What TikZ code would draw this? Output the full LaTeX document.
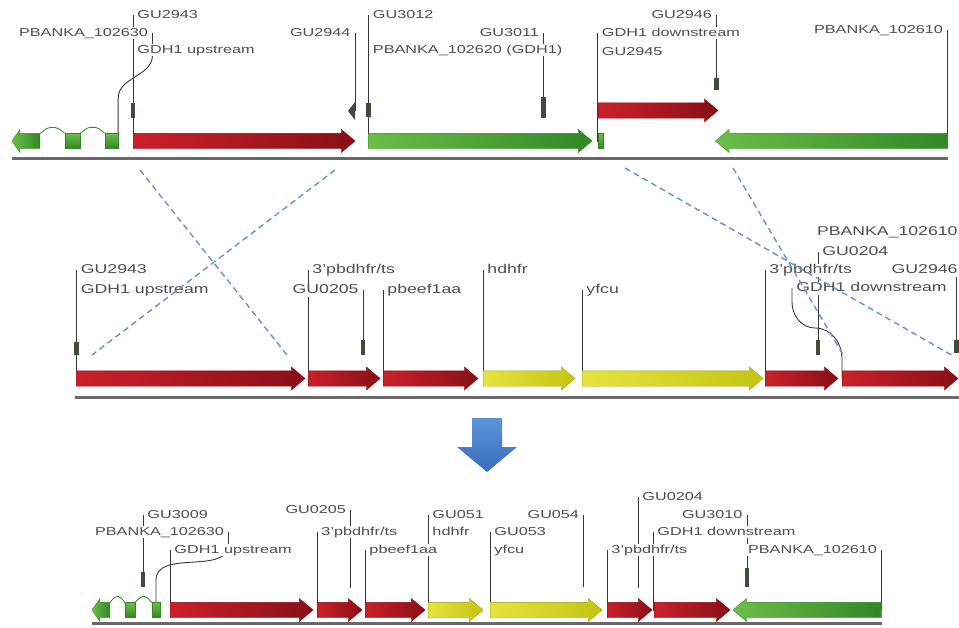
\documentclass[tikz,border=0pt]{standalone}
\usepackage{fontspec}
\setmainfont{Liberation Sans}
\usetikzlibrary{shapes.arrows,backgrounds}

\definecolor{redL}{RGB}{204,32,42}
\definecolor{redD}{RGB}{135,16,22}
\definecolor{greenL}{RGB}{108,190,72}
\definecolor{greenD}{RGB}{50,135,38}
\definecolor{yelL}{RGB}{230,228,60}
\definecolor{yelD}{RGB}{196,196,20}
\definecolor{primercol}{RGB}{62,78,58}
\definecolor{labelcol}{RGB}{78,78,78}
\definecolor{leadcol}{RGB}{55,55,55}
\definecolor{bbcol}{RGB}{105,105,105}
\definecolor{dashcol}{RGB}{100,148,205}
\definecolor{blueL}{RGB}{92,148,216}
\definecolor{blueD}{RGB}{58,108,188}

\tikzset{
  gene/.style={single arrow, anchor=tail, inner xsep=0pt, inner ysep=7.5pt,
    single arrow head extend=4pt, single arrow tip angle=80, line width=0.3pt},
  redgene/.style={gene, left color=redL, right color=redD, draw=redD},
  greengene/.style={gene, left color=greenL, right color=greenD, draw=greenD},
  yellowgene/.style={gene, left color=yelL, right color=yelD, draw=yelD!80!black},
  exon/.style={rectangle, inner sep=0pt, minimum height=15pt, top color=greenL,
    bottom color=greenD, draw=greenD, line width=0.3pt},
  primer/.style={rectangle, inner sep=0pt, minimum width=4.5pt, fill=primercol},
  lbl/.style={font=\fontsize{11.5}{13}\selectfont, xscale=1.41, text=labelcol,
    fill=white, inner sep=0.5pt, text height=8.4pt, text depth=2.4pt},
  lblm/.style={lbl, font=\fontsize{12.8}{14}\selectfont, xscale=0.979,
    text height=9.3pt, text depth=2.7pt},
  leader/.style={draw=leadcol, line width=0.9pt},
  backbone/.style={draw=bbcol, line width=3pt},
  homology/.style={draw=dashcol, line width=1.4pt, dash pattern=on 6pt off 4pt},
  intron/.style={draw=greenD, line width=0.8pt, rounded corners=2pt}
}

\begin{document}
\begin{tikzpicture}[x=1pt,y=-1pt]
\useasboundingbox (0,0) rectangle (959,627);

\draw[backbone] (12,158) -- (948,158);
\draw[backbone] (75,397) -- (959,397);
\draw[backbone] (92,623.5) -- (882,623.5);

% wild-type locus
\node[greengene, shape border rotate=180, minimum height=28pt, single arrow tip angle=110] (tE1) at (40,141) {};
\node[exon, minimum width=15pt] (tE2) at (72.5,141) {};
\node[exon, minimum width=13pt] (tE3) at (111.5,141) {};
\draw[intron] ([yshift=7.5pt]tE1.tail) -- ++(8,-6) -- ++(9,0) -- (tE2.north west);
\draw[intron] (tE2.north east) -- ++(8,-6) -- ++(9,0) -- (tE3.north west);
\node[redgene, minimum height=222pt] (tUp) at (133,141) {};
\node[greengene, minimum height=224pt] (tGdh) at (368,141) {};
\node[exon, minimum width=5pt] (tStub) at (600.5,141) {};
\node[redgene, minimum height=120pt] (tDown) at (598,110.5) {};
\node[greengene, shape border rotate=180, minimum height=232pt] (tNext) at (947.5,141) {};

\node[primer, minimum height=15pt] (tM2943) at (133,110.5) {};
\coordinate (tM2944) at (355,111);
\node[primer, minimum height=14pt] (tM3012) at (368.5,110) {};
\node[primer, minimum height=21pt] (tM3011) at (543.5,107.5) {};
\node[primer, minimum height=12pt] (tM2946) at (716.5,84) {};

\node[lbl, anchor=west] (tl2943) at (136.5,15) {GU2943};
\node[lbl, anchor=east] (tlPb30) at (149,33) {PBANKA\_102630};
\node[lbl, anchor=west] (tlUp) at (136.5,50) {GDH1 upstream};
\node[lbl, anchor=east] (tl2944) at (351.5,33) {GU2944};
\node[lbl, anchor=west] (tl3012) at (372,15) {GU3012};
\node[lbl, anchor=west] (tlGdh) at (372,50) {PBANKA\_102620 (GDH1)};
\node[lbl, anchor=east] (tl3011) at (540,33) {GU3011};
\node[lbl, anchor=east] (tl2946) at (713,15) {GU2946};
\node[lbl, anchor=west] (tlDown) at (601,33) {GDH1 downstream};
\node[lbl, anchor=west] (tl2945) at (601,52) {GU2945};
\node[lbl, anchor=east] (tlPb10) at (944,30) {PBANKA\_102610};

% transfected construct
\node[redgene, minimum height=229pt] (mUp) at (76,378.5) {};
\node[redgene, minimum height=72pt] (mTs1) at (308,378.5) {};
\node[redgene, minimum height=95pt] (mEf) at (383,378.5) {};
\node[yellowgene, minimum height=92pt] (mHd) at (483,378.5) {};
\node[yellowgene, minimum height=181pt] (mYf) at (582,378.5) {};
\node[redgene, minimum height=73pt] (mTs2) at (765,378.5) {};
\node[redgene, minimum height=116pt] (mDown) at (842,378.5) {};

\node[primer, minimum height=13pt] (mM2943) at (76.5,348.5) {};
\node[primer, minimum height=15pt] (mM0205) at (363,347.5) {};
\node[primer, minimum height=15pt] (mM0204) at (818,347.5) {};
\node[primer, minimum height=13pt] (mM2946) at (956.5,346.5) {};
\coordinate (mJoin) at (815,328);

\node[lblm, anchor=west] (ml2943) at (80,270) {GU2943};
\node[lblm, anchor=west] (mlUp) at (80,290) {GDH1 upstream};
\node[lblm, anchor=west] (mlTs1) at (311.5,270) {3'pbdhfr/ts};
\node[lblm, anchor=east] (ml0205) at (359.5,290) {GU0205};
\node[lblm, anchor=west] (mlEf) at (386.5,290) {pbeef1aa};
\node[lblm, anchor=west] (mlHd) at (486.5,270) {hdhfr};
\node[lblm, anchor=west] (mlYf) at (585.5,290) {yfcu};
\node[lblm, anchor=west] (mlTs2) at (768.5,270) {3'pbdhfr/ts};
\node[lblm, anchor=east] (mlPb10) at (958.5,232) {PBANKA\_102610};
\node[lblm, anchor=west] (ml0204) at (821.5,252) {GU0204};
\node[lblm, anchor=east] (ml2946) at (958.5,270) {GU2946};
\node[lblm, anchor=west] (mlDown) at (795.5,288) {GDH1 downstream};

% recombined locus
\node[greengene, shape border rotate=180, minimum height=18pt, single arrow tip angle=110] (bE1) at (110,610) {};
\node[exon, minimum width=10pt] (bE2) at (130,610) {};
\node[exon, minimum width=8pt] (bE3) at (156,610) {};
\draw[intron] ([yshift=7.5pt]bE1.tail) -- ++(5,-6) -- ++(5,0) -- (bE2.north west);
\draw[intron] (bE2.north east) -- ++(6,-6) -- ++(5,0) -- (bE3.north west);
\node[redgene, minimum height=143pt] (bUp) at (170,610) {};
\node[redgene, minimum height=45pt] (bTs1) at (317,610) {};
\node[redgene, minimum height=60pt] (bEf) at (365,610) {};
\node[yellowgene, minimum height=55pt] (bHd) at (428,610) {};
\node[yellowgene, minimum height=112pt] (bYf) at (490,610) {};
\node[redgene, minimum height=45pt] (bTs2) at (607,610) {};
\node[redgene, minimum height=76pt] (bDown) at (654,610) {};
\node[greengene, shape border rotate=180, minimum height=148.5pt] (bNext) at (881.5,610) {};

\node[primer, minimum height=15pt] (bM3009) at (143,579.5) {};
\node[primer, minimum height=19pt] (bM3010) at (747,577.5) {};
\coordinate (bE0205) at (350.5,588);
\coordinate (bE054) at (583.5,587);
\coordinate (bE0204) at (638,588);

\node[lbl, anchor=west] (bl3009) at (146.5,515) {GU3009};
\node[lbl, anchor=east] (blPb30) at (225,532) {PBANKA\_102630};
\node[lbl, anchor=west] (blUp) at (173.5,550) {GDH1 upstream};
\node[lbl, anchor=east] (bl0205) at (347,510) {GU0205};
\node[lbl, anchor=west] (blTs1) at (320.5,532) {3'pbdhfr/ts};
\node[lbl, anchor=west] (blEf) at (368.5,550) {pbeef1aa};
\node[lbl, anchor=west] (bl051) at (431.5,515) {GU051};
\node[lbl, anchor=west] (blHd) at (431.5,532) {hdhfr};
\node[lbl, anchor=east] (bl054) at (580,515) {GU054};
\node[lbl, anchor=west] (bl053) at (493.5,532) {GU053};
\node[lbl, anchor=west] (blYf) at (493.5,550) {yfcu};
\node[lbl, anchor=west] (bl0204) at (641.5,497) {GU0204};
\node[lbl, anchor=east] (bl3010) at (743.5,515) {GU3010};
\node[lbl, anchor=west] (blDown) at (656.5,532) {GDH1 downstream};
\node[lbl, anchor=west] (blTs2) at (610.5,550) {3'pbdhfr/ts};
\node[lbl, anchor=east] (blPb10) at (878,550) {PBANKA\_102610};

% label leaders, kept under the features and the labels
\begin{scope}[on background layer]
  \draw[leader] ([xshift=-3.5pt]tl2943.west) |- (tM2943.center);
  \draw[leader] ([xshift=3.5pt]tlPb30.east) -- ++(0,22) to[out=-90,in=90] ([yshift=35pt]tE3.north east) -- (tE3.north east);
  \draw[leader] ([xshift=-3.5pt]tlUp.west) |- (tUp.tail);
  \draw[leader] ([xshift=3.5pt]tl2944.east) |- (tM2944);
  \draw[leader] ([xshift=-3.5pt]tl3012.west) |- (tM3012.center);
  \draw[leader] ([xshift=-3.5pt]tlGdh.west) |- (tGdh.tail);
  \draw[leader] ([xshift=3.5pt]tl3011.east) |- (tM3011.center);
  \draw[leader] ([xshift=3.5pt]tl2946.east) |- (tM2946.center);
  \draw[leader] ([xshift=-3.5pt]tlDown.west) |- (tStub.center);
  \draw[leader] ([xshift=-3.5pt]tl2945.west) |- (tDown.tail);
  \draw[leader] ([xshift=3.5pt]tlPb10.east) |- (tNext.tail);

  \draw[leader] ([xshift=-3.5pt]ml2943.west) |- (mM2943.center);
  \draw[leader] ([xshift=-3.5pt]mlUp.west) |- (mUp.tail);
  \draw[leader] ([xshift=-3.5pt]mlTs1.west) |- (mTs1.tail);
  \draw[leader] ([xshift=3.5pt]ml0205.east) |- (mM0205.center);
  \draw[leader] ([xshift=-3.5pt]mlEf.west) |- (mEf.tail);
  \draw[leader] ([xshift=-3.5pt]mlHd.west) |- (mHd.tail);
  \draw[leader] ([xshift=-3.5pt]mlYf.west) |- (mYf.tail);
  \draw[leader] ([xshift=-3.5pt]mlTs2.west) |- (mTs2.tail);
  \draw[leader] ([xshift=-3.5pt]ml0204.west) |- (mM0204.center);
  \draw[leader] ([xshift=-2pt]ml2946.south east) |- (mM2946.center);
  \draw[leader] ([xshift=-3.5pt]mlDown.west) -- ++(0,14) to[out=-90,in=180] (mJoin) to[out=0,in=90] ([yshift=20pt]mDown.tail) -- (mDown.tail);

  \draw[leader] ([xshift=-3.5pt]bl3009.west) |- (bM3009.center);
  \draw[leader] ([xshift=3.5pt]blPb30.east) -- ++(0,12) to[out=-90,in=90] ([yshift=22pt]bE3.north) -- (bE3.north);
  \draw[leader] ([xshift=-3.5pt]blUp.west) |- (bUp.tail);
  \draw[leader] ([xshift=3.5pt]bl0205.east) -- (bE0205);
  \draw[leader] ([xshift=-3.5pt]blTs1.west) |- (bTs1.tail);
  \draw[leader] ([xshift=-3.5pt]blEf.west) |- (bEf.tail);
  \draw[leader] ([xshift=-3.5pt]bl051.west) |- (bHd.tail);
  \draw[leader] ([xshift=-3.5pt]blHd.west) |- (bHd.tail);
  \draw[leader] ([xshift=3.5pt]bl054.east) -- (bE054);
  \draw[leader] ([xshift=-3.5pt]bl053.west) |- (bYf.tail);
  \draw[leader] ([xshift=-3.5pt]blYf.west) |- (bYf.tail);
  \draw[leader] ([xshift=-3.5pt]bl0204.west) -- (bE0204);
  \draw[leader] ([xshift=3.5pt]bl3010.east) |- (bM3010.center);
  \draw[leader] ([xshift=-3.5pt]blDown.west) |- (bDown.tail);
  \draw[leader] ([xshift=-3.5pt]blTs2.west) |- (bTs2.tail);
  \draw[leader] ([xshift=3.5pt]blPb10.east) |- (bNext.tail);
\end{scope}

\fill[primercol] (tM2944) ++(0,-9) -- ++(0,18) -- ++(-7,-9) -- cycle;

% homology arms
\coordinate (armLtop) at (140,170);
\coordinate (armLbot) at (287,355);
\coordinate (armRtop) at (335,170);
\coordinate (armRbot) at (92,355);
\coordinate (dnLtop) at (625,168);
\coordinate (dnLbot) at (955,357);
\coordinate (dnRtop) at (733,168);
\coordinate (dnRbot) at (845,358);
\draw[homology] (armLtop) -- (armLbot);
\draw[homology] (armRtop) -- (armRbot);
\draw[homology] (dnLtop) -- (dnLbot);
\draw[homology] (dnRtop) -- (dnRbot);

\shade[top color=blueL, bottom color=blueD] (472,418) -- (502,418) -- (502,447) -- (517,447)
  -- (487,472) -- (457,447) -- (472,447) -- cycle;
\end{tikzpicture}
\end{document}
